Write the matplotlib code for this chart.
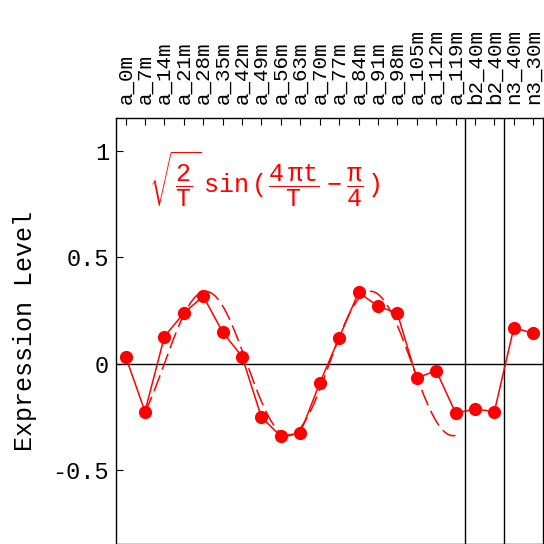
import matplotlib
matplotlib.use("Agg")
import matplotlib.pyplot as plt
import numpy as np

plt.rcParams['font.family'] = ['Liberation Mono', 'DejaVu Sans']
plt.rcParams['mathtext.fontset'] = 'custom'
plt.rcParams['mathtext.rm'] = 'Liberation Mono'
plt.rcParams['mathtext.it'] = 'Liberation Mono'

# sample names along the top axis
samples = ["a_0m", "a_7m", "a_14m", "a_21m", "a_28m", "a_35m", "a_42m", "a_49m",
           "a_56m", "a_63m", "a_70m", "a_77m", "a_84m", "a_91m", "a_98m", "a_105m",
           "a_112m", "a_119m", "b2_40m", "b2_40m", "n3_40m", "n3_30m"]

# measured expression
expression = [0.033, -0.226, 0.127, 0.237, 0.317, 0.148, 0.033, -0.253,
              -0.343, -0.327, -0.093, 0.121, 0.335, 0.270, 0.237, -0.069,
              -0.033, -0.233, -0.215, -0.226, 0.168, 0.143]

# fitted sine (dashed), parameters
fit_amp = 0.34
fit_period = 8.5
fit_zero = 2.0
fit_start = 1
fit_end = 17

# group separators
separators = [17.5, 19.5]

red = '#ff0000'

fig = plt.figure(figsize=(5.44, 5.44), dpi=100)
ax = fig.add_axes([0.213, 0.0, 0.785, 0.783])

x = np.arange(len(samples))
ax.axhline(0, color='black', lw=1.0, zorder=1)
for s in separators:
    ax.axvline(s, color='black', lw=1.0, zorder=1)

t = np.linspace(fit_start, fit_end, 300)
ax.plot(t, fit_amp * np.sin(2 * np.pi * (t - fit_zero) / fit_period),
        color=red, lw=1.1, dashes=(11, 4), zorder=2)
ax.plot(x, expression, color=red, lw=1.1, marker='o', markersize=9.5,
        markeredgewidth=0, zorder=3)

formula = (r'$\sqrt{\,\dfrac{2}{\mathrm{T}}\,}\;\mathrm{sin}\,(\,'
           r'\dfrac{4\;\pi\mathrm{t}}{\mathrm{T}}\,-\,\dfrac{\pi}{4}\,)$')
ax.text(1.2, 0.87, formula, color=red, fontsize=18, ha='left', va='center')

ax.set_xlim(-0.5, 21.5)
ax.set_ylim(-0.85, 1.156)
ax.set_xticks(x)
ax.set_xticklabels(samples, rotation=90, fontsize=15)
ax.xaxis.tick_top()
ax.tick_params(axis='x', direction='in', length=5, pad=10, bottom=False, top=True)
ax.set_yticks([-0.5, 0, 0.5, 1])
ax.set_yticklabels(['-0.5', '0', '0.5', '1'], fontsize=17)
ax.tick_params(axis='y', direction='in', length=5, pad=5)
ax.set_ylabel('Expression Level', fontsize=18, labelpad=11)

for side in ['left', 'top', 'right', 'bottom']:
    ax.spines[side].set_linewidth(1.0)

fig.savefig('out.png', dpi=100)
